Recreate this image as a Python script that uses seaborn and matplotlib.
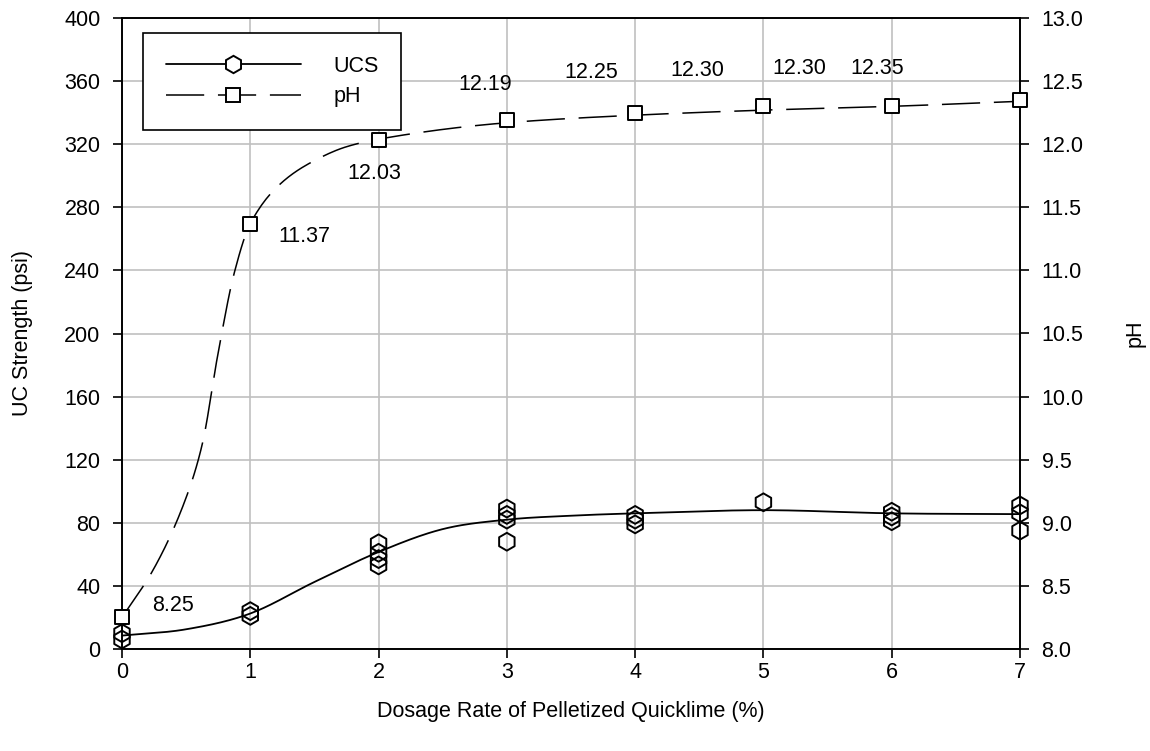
import numpy as np
import matplotlib
matplotlib.use("Agg")
import matplotlib.pyplot as plt
from matplotlib.lines import Line2D
import seaborn as sns

# data
dosage = [0, 1, 2, 3, 4, 5, 6, 7]
ph_values = [8.25, 11.37, 12.03, 12.19, 12.25, 12.30, 12.30, 12.35]

ucs_x = [0, 0, 1, 1, 2, 2, 2, 2, 3, 3, 3, 3, 4, 4, 4, 5, 6, 6, 6, 7, 7, 7]
ucs_y = [6, 10, 21, 24, 67, 61, 57, 53, 89, 85, 82, 68, 85, 82, 79, 93, 87, 84, 81, 91, 86, 75]

# trend curves (knots, smoothed for drawing)
ucs_fit_x = [0, 0.5, 1, 1.5, 2, 2.5, 3, 3.5, 4, 5, 6, 7]
ucs_fit_y = [8.5, 12.5, 22.5, 42.5, 61.5, 76, 82, 84.5, 86, 88, 86, 85.5]
ph_fit_x = [0, 0.25, 0.5, 0.625, 0.75, 0.875, 1, 1.25, 1.5, 1.75, 2, 3, 4, 5, 6, 7]
ph_fit_y = [8.25, 8.64, 9.2, 9.62, 10.35, 10.98, 11.37, 11.70, 11.87, 11.98, 12.04,
            12.17, 12.23, 12.27, 12.30, 12.34]

# label offsets in pixels (dx, dy)
label_offsets = [(51, 12), (54, -13), (-4, -33), (-22, 36), (-44, 40), (-66, 36), (-92, 38), (-143, 32)]


def smooth(xk, yk, mono=True, n=400):
    # cubic hermite curve through the knots (pchip or catmull-rom tangents)
    xk = np.asarray(xk, float)
    yk = np.asarray(yk, float)
    h = np.diff(xk)
    d = np.diff(yk) / h
    m = np.zeros_like(yk)
    m[0], m[-1] = d[0], d[-1]
    for i in range(1, len(xk) - 1):
        if not mono:
            m[i] = (yk[i + 1] - yk[i - 1]) / (xk[i + 1] - xk[i - 1])
        elif d[i - 1] * d[i] <= 0:
            m[i] = 0
        else:
            w1 = 2 * h[i] + h[i - 1]
            w2 = h[i] + 2 * h[i - 1]
            m[i] = (w1 + w2) / (w1 / d[i - 1] + w2 / d[i])
    xs = np.linspace(xk[0], xk[-1], n)
    idx = np.clip(np.searchsorted(xk, xs) - 1, 0, len(h) - 1)
    t = (xs - xk[idx]) / h[idx]
    h00 = 2 * t**3 - 3 * t**2 + 1
    h10 = t**3 - 2 * t**2 + t
    h01 = -2 * t**3 + 3 * t**2
    h11 = t**3 - t**2
    ys = h00 * yk[idx] + h10 * h[idx] * m[idx] + h01 * yk[idx + 1] + h11 * h[idx] * m[idx + 1]
    return xs, ys


sns.set_theme(style="white")
plt.rcParams['font.family'] = ['Liberation Sans', 'DejaVu Sans']
plt.rcParams['text.color'] = 'black'
plt.rcParams['axes.labelcolor'] = 'black'
FS = 15.5

fig = plt.figure(figsize=(11.5, 7.51), dpi=100)
ax = fig.add_axes([122 / 1150, 1 - 649 / 751, (1020 - 122) / 1150, (649 - 18) / 751])
ax2 = ax.twinx()

# UCS
fx, fy = smooth(ucs_fit_x, ucs_fit_y, mono=False)
sns.lineplot(x=fx, y=fy, ax=ax, color='black', lw=1.3, sort=False, estimator=None)
sns.scatterplot(x=ucs_x, y=ucs_y, ax=ax, marker='h', s=165, facecolor='none',
                edgecolor='black', linewidth=1.4, clip_on=False, zorder=5)

# pH
px_, py_ = smooth(ph_fit_x, ph_fit_y)
sns.lineplot(x=px_, y=py_, ax=ax2, color='black', lw=1.1, sort=False, estimator=None)
ax2.lines[-1].set_dashes((25, 9))
sns.scatterplot(x=dosage, y=ph_values, ax=ax2, marker='s', s=95, facecolor='white',
                edgecolor='black', linewidth=1.4, clip_on=False, zorder=5)

for xv, yv, (dx, dy) in zip(dosage, ph_values, label_offsets):
    ax2.annotate(f"{yv:.2f}", (xv, yv), xytext=(dx, dy), textcoords='offset pixels',
                 ha='center', va='center', fontsize=FS, color='black')

ax.set_xlim(0, 7)
ax.set_ylim(0, 400)
ax2.set_ylim(8, 13)
ax.set_xticks(range(0, 8))
ax.set_yticks(range(0, 401, 40))
ph_ticks = np.arange(8, 13.01, 0.5)
ax2.set_yticks(ph_ticks)
ax2.set_yticklabels([f"{v:.1f}" for v in ph_ticks])

ax.grid(True, color='#c0c0c0', lw=1.2)
ax.set_axisbelow(True)
ax2.grid(False)

for a in (ax, ax2):
    for sp in a.spines.values():
        sp.set_color('black')
        sp.set_linewidth(1.2)
ax.tick_params(axis='y', direction='out', length=6.5, width=1.2, colors='black',
               labelsize=FS, left=True, pad=9)
ax.tick_params(axis='x', direction='out', length=6.5, width=1.2, colors='black',
               labelsize=FS, bottom=True, pad=3)
ax2.tick_params(axis='y', direction='out', length=6.5, width=1.2, colors='black',
                labelsize=FS, right=True, pad=9)

ax.set_xlabel('Dosage Rate of Pelletized Quicklime (%)', fontsize=FS, va='center')
ax.set_ylabel('UC Strength (psi)', fontsize=FS, va='center')
ax2.set_ylabel('pH', fontsize=FS, va='center')
ax.xaxis.set_label_coords(0.5, (649 - 712) / 631)
ax.yaxis.set_label_coords((23 - 122) / 898, 0.5)
ax2.yaxis.set_label_coords((1135 - 122) / 898, 0.5)

handles = [
    Line2D([0], [0], color='black', lw=1.3, marker='h', ms=12.5, mfc='white', mec='black', mew=1.4),
    Line2D([0], [0], color='black', lw=1.1, dashes=(25, 9), marker='s', ms=10, mfc='white', mec='black', mew=1.4),
]
leg = ax2.legend(handles, ['UCS', 'pH'], loc='upper left',
                 bbox_to_anchor=(21 / 898, (649 - 33) / 631), borderaxespad=0,
                 fontsize=FS, frameon=True, fancybox=False, framealpha=1,
                 edgecolor='black', handlelength=6.3, handletextpad=1.5,
                 borderpad=1.05, labelspacing=0.45)
leg.get_frame().set_linewidth(1.2)
leg.set_zorder(10)

fig.savefig('out.png', dpi=100)
